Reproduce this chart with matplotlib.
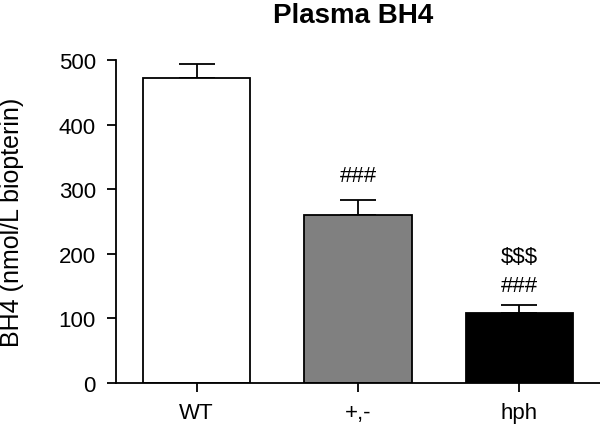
import matplotlib
matplotlib.use("Agg")
import matplotlib.pyplot as plt

categories = ["WT", "+,-", "hph"]
values = [472, 260, 109]
errors = [22, 23, 12]
colors = ["white", "#808080", "black"]
annotations = [[], ["###"], ["###", "$$$"]]
annot_y = [[], [322], [151, 196]]
yticks = [0, 100, 200, 300, 400, 500]

plt.rcParams['font.family'] = ['Liberation Sans', 'DejaVu Sans']

fig = plt.figure(figsize=(6, 4.27), dpi=100)
ax = fig.add_axes([0.1933, 0.1007, 0.8067, 0.7564])

x = list(range(len(categories)))
ax.bar(x, values, width=0.665, color=colors, edgecolor="black", linewidth=1.3, zorder=2)
ax.errorbar(x, values, yerr=[[0]*3, errors], fmt="none", ecolor="black",
            elinewidth=1.3, capsize=13, capthick=1.3, zorder=1)

for xi, labs, ys in zip(x, annotations, annot_y):
    for lab, yv in zip(labs, ys):
        ax.text(xi, yv, lab, ha="center", va="center", fontsize=16)

ax.set_xlim(-0.5, 2.5)
ax.set_ylim(0, 500)
ax.set_xticks(x)
ax.set_xticklabels(categories, fontsize=16)
ax.set_yticks(yticks)
ax.tick_params(axis="y", labelsize=16, length=6.5, width=1.3, pad=8)
ax.tick_params(axis="x", length=6.5, width=1.3, pad=7)
for s in ["top", "right"]:
    ax.spines[s].set_visible(False)
for s in ["left", "bottom"]:
    ax.spines[s].set_linewidth(1.3)

ax.set_ylabel("BH4 (nmol/L biopterin)", fontsize=18)
ax.yaxis.set_label_coords(-0.19, 0.5)
fig.text(0.589, 0.962, "Plasma BH4", ha="center", va="center", fontsize=20, fontweight="bold")

fig.savefig("out.png", dpi=100)
